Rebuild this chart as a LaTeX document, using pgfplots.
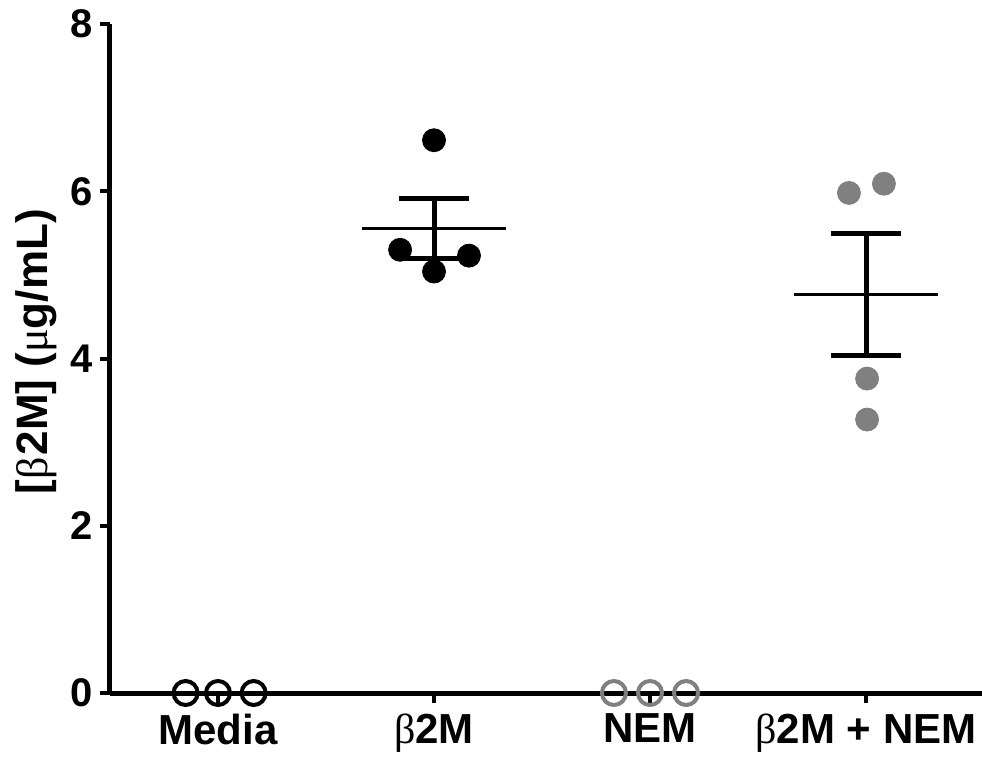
\documentclass[border=0pt]{standalone}
\usepackage{pgfplots}
\pgfplotsset{compat=1.18}
\usepackage{fontspec}
\setmainfont{Liberation Sans}
\newfontfamily\grk{Liberation Serif}
\definecolor{dgray}{RGB}{128,128,128}
\begin{document}
\begin{tikzpicture}
\begin{axis}[name=ax, scale only axis, width=436pt, height=334.5pt,
  xmin=0.5, xmax=4.537, ymin=0, ymax=8, clip=false,
  axis lines=left, axis line style={line width=2.5pt, -},
  xtick={1,2,3,4},
  xticklabels={Media,{\grk\mdseries β}2M,NEM,{\grk\mdseries β}2M + NEM},
  ytick={0,2,4,6,8},
  tick align=outside, major tick length=5pt,
  tick style={line width=2pt, black},
  /pgf/number format/assume math mode=true,
  ticklabel style={font=\bfseries\fontsize{20}{24}\selectfont},
  xticklabel style={yshift=-2pt, font=\bfseries\fontsize{21}{24}\selectfont},
  ylabel={[{\grk\mdseries β}\kern1pt2M] ({\grk\mdseries μ}g/mL)},
  ylabel style={font=\bfseries\fontsize{22}{26}\selectfont, at={(ticklabel cs:0.51)}},
]
% mean and SEM
\addplot[line width=1.5pt] coordinates {(1.667,5.55) (2.333,5.55)};
\addplot[line width=2.5pt] coordinates {(2,5.18) (2,5.91)};
\addplot[line width=2.5pt] coordinates {(1.837,5.91) (2.163,5.91)};
\addplot[line width=2.5pt] coordinates {(1.837,5.19) (2.163,5.19)};
\addplot[line width=1.5pt] coordinates {(3.667,4.77) (4.333,4.77)};
\addplot[line width=2.5pt] coordinates {(4,4.04) (4,5.50)};
\addplot[line width=2.5pt] coordinates {(3.837,5.50) (4.163,5.50)};
\addplot[line width=2.5pt] coordinates {(3.837,4.04) (4.163,4.04)};
% points
\addplot[only marks, mark=*, mark size=5.75pt, black] coordinates {(2,6.61) (1.843,5.30) (2.162,5.23) (2,5.04)};
\addplot[only marks, mark=*, mark size=5.75pt, dgray, mark options={draw=dgray, fill=dgray}] coordinates {(3.921,5.98) (4.083,6.09) (4.005,3.76) (4.005,3.27)};
\addplot[only marks, mark=o, mark size=6pt, line width=2pt, black] coordinates {(0.85,0) (1,0) (1.165,0)};
\addplot[only marks, mark=o, mark size=6pt, line width=2pt, dgray] coordinates {(2.833,0) (3,0) (3.167,0)};
\end{axis}
\pgfresetboundingbox
\path (ax.south west) ++(-55pt,-34.5pt) rectangle ++(491pt,381pt);
\end{tikzpicture}
\end{document}
